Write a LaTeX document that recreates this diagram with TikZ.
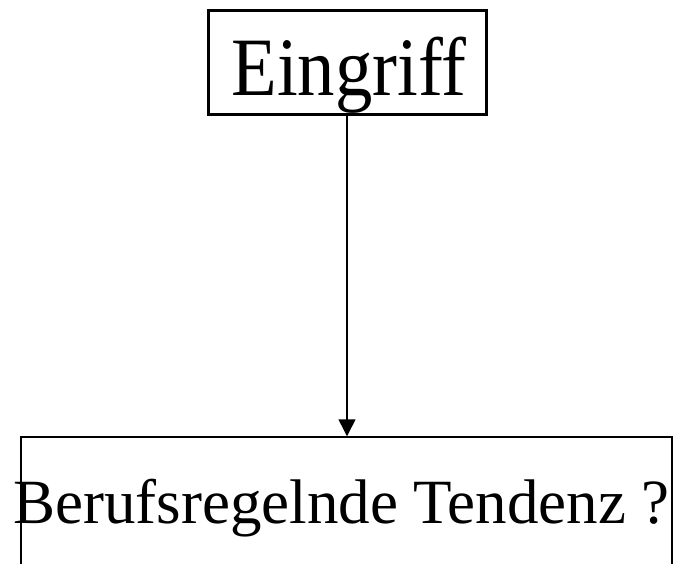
\documentclass[tikz,border=0pt]{standalone}
\usepackage{fontspec}
\setmainfont{Liberation Serif}
\usetikzlibrary{arrows.meta}
\begin{document}
\begin{tikzpicture}[x=1pt,y=-1pt,
  topbox/.style={draw,line width=3pt,minimum width=278pt,minimum height=104pt,inner sep=0pt},
  botbox/.style={draw,line width=1.5pt,minimum width=651pt,minimum height=200pt,inner sep=0pt},
  lbl/.style={anchor=base,inner sep=0pt}]
\clip (0,0) rectangle (682,563);
\node[topbox] (top) at (347,62) {};
\node[botbox] (bot) at (346.5,537) {};
\node[lbl] (t1) at (349,95) {\scalebox{0.9}[1]{\fontsize{83}{90}\selectfont Eingriff}};
\node[lbl] (t2) at (341.5,523) {\fontsize{63}{70}\selectfont Berufsregelnde Tendenz ?};
\draw[line width=1.5pt,-{Triangle[width=17pt,length=17pt]}] (top.south) -- (top.south |- bot.north);
\end{tikzpicture}
\end{document}
